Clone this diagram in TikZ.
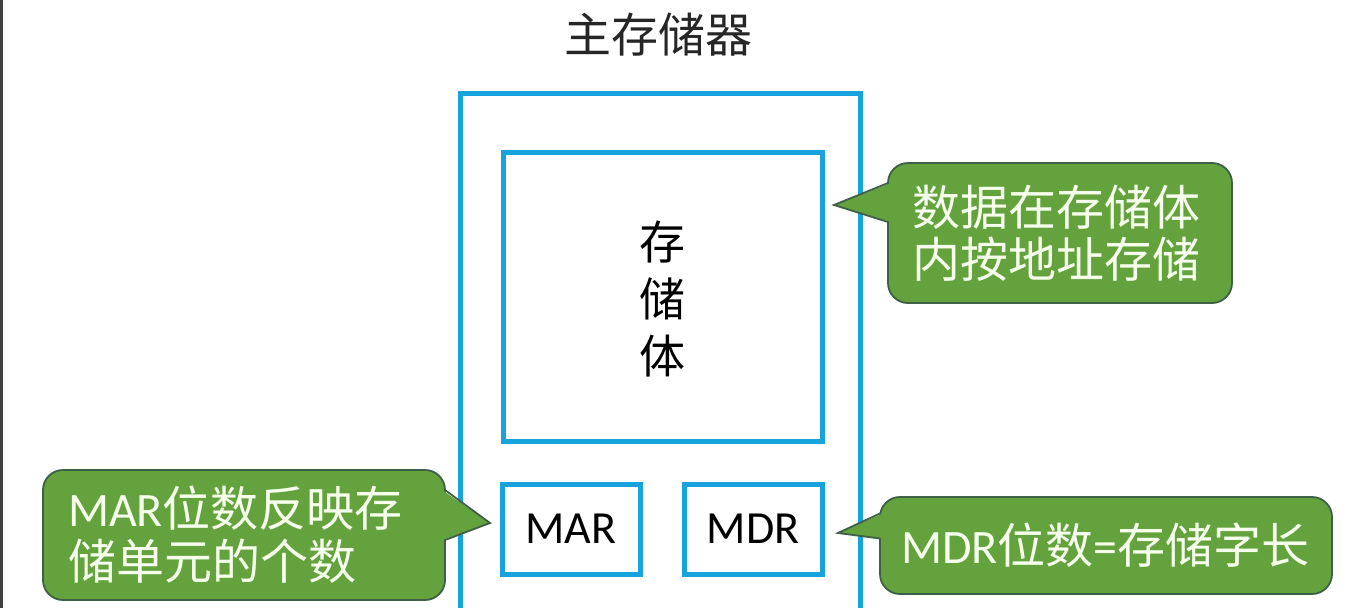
\documentclass[tikz,border=0pt]{standalone}
\usepackage{fontspec}
\setmainfont{Carlito}
\newfontfamily\cjk{Noto Sans CJK SC}
\usetikzlibrary{calc}
\definecolor{boxblue}{RGB}{24,162,222}
\definecolor{callfill}{RGB}{100,162,62}
\definecolor{callline}{RGB}{62,96,70}
\definecolor{calltext}{RGB}{246,255,236}
\tikzset{
  bluebox/.style={draw=boxblue, line width=5pt, outer sep=0pt, inner sep=0pt, fill=white},
  callout/.style={fill=callfill, draw=callline, line width=1.8pt, rounded corners=20pt, outer sep=0pt, inner ysep=0pt, text=calltext, align=left},
  pointerfill/.style={fill=callfill},
  pointerline/.style={draw=callline, line width=1.8pt, line join=miter},
  bigtext/.style={font=\fontsize{46}{52}\selectfont},
  calltextfont/.style={font=\fontsize{48}{52}\selectfont},
}
\begin{document}
\begin{tikzpicture}[x=1pt,y=-1pt]
\useasboundingbox (0,0) rectangle (1369,608);
\clip (0,0) rectangle (1369,608);
\fill[white] (0,0) rectangle (1369,608);
\draw[line width=3pt, black!75] (1.5,0) -- (1.5,608);

% title
\node[font=\fontsize{47}{52}\selectfont, text=black!85] (title) at (658,35) {\cjk 主存储器};

% main memory box (open at bottom, continues below the frame)
\node[bluebox, minimum width=400pt, minimum height=560pt, anchor=north west] (main) at (460,93) {};
% storage body
\node[bluebox, minimum width=319pt, minimum height=289pt, anchor=north west] (body) at (503,152) {};
\node[align=center, font=\fontsize{46}{57}\selectfont] (bodytext) at ($(body.center)+(0,2)$) {\cjk 存\\\cjk 储\\\cjk 体};
% MAR and MDR
\node[bluebox, minimum width=138pt, minimum height=90pt, anchor=north west, bigtext] (mar) at (502,484) {MAR};
\node[bluebox, minimum width=138pt, minimum height=90pt, anchor=north west, bigtext] (mdr) at (684,484) {MDR};

% callout 1
\node[callout, calltextfont, minimum height=140pt, inner xsep=24pt, text width=296pt] (c1) at (1060,233) {\cjk 数据在存储体\\\cjk 内按地址存储};
\coordinate (t1) at (834,205);
\fill[pointerfill] ($(c1.west)+(3,-50)$) -- (t1) -- ($(c1.west)+(3,-11)$) -- cycle;
\draw[pointerline] ($(c1.west)+(0,-50)$) -- (t1) -- ($(c1.west)+(0,-11)$);

% callout 2
\node[callout, font=\fontsize{48}{53}\selectfont, minimum height=130pt, inner xsep=25pt, text width=352pt] (c2) at (244,535) {MAR{\cjk 位数反映存}\\{\cjk 储单元的个数}};
\coordinate (t2) at (490,523);
\fill[pointerfill] ($(c2.east)+(-3,-45)$) -- (t2) -- ($(c2.east)+(-3,5)$) -- cycle;
\draw[pointerline] ($(c2.east)+(0,-45)$) -- (t2) -- ($(c2.east)+(0,5)$);

% callout 3
\node[callout, calltextfont, minimum height=97pt, inner xsep=21pt, text width=410pt] (c3) at (1106,545.5) {MDR{\cjk 位数}={\cjk 存储字长}};
\coordinate (t3) at (838,533);
\fill[pointerfill] ($(c3.west)+(3,-32)$) -- (t3) -- ($(c3.west)+(3,-7)$) -- cycle;
\draw[pointerline] ($(c3.west)+(0,-32)$) -- (t3) -- ($(c3.west)+(0,-7)$);
\end{tikzpicture}
\end{document}
